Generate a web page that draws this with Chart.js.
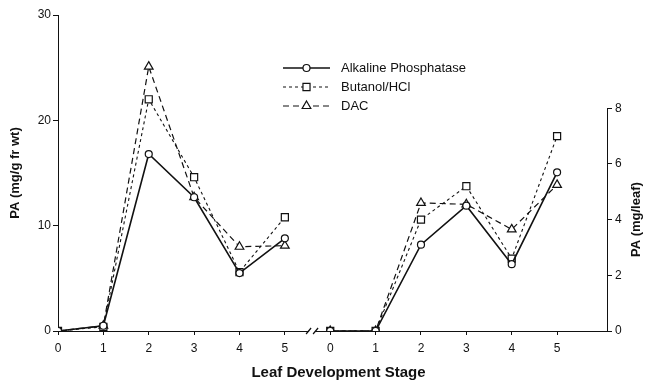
<!DOCTYPE html>
<html><head><meta charset="utf-8">
<script src="https://cdn.jsdelivr.net/npm/chart.js@4/dist/chart.umd.min.js"></script>
<style>html,body{margin:0;padding:0;background:#fff}#wrap{width:648px;height:382px}</style>
</head><body><div id="wrap"><canvas id="c" width="648" height="382"></canvas></div>
<script>
// ---- data ----
const stages = [0, 1, 2, 3, 4, 5];
const seriesNames = ['Alkaline Phosphatase', 'Butanol/HCl', 'DAC'];
// left panel: PA (mg/g fr wt)
const alkPerGram = [0, 0.5, 16.8, 12.7, 5.5, 8.8];
const butPerGram = [0, 0.4, 22.0, 14.6, 5.6, 10.8];
const dacPerGram = [0, 0.5, 25.1, 12.7, 8.0, 8.1];
// right panel: PA (mg/leaf)
const alkPerLeaf = [0, 0, 3.1, 4.5, 2.4, 5.7];
const butPerLeaf = [0, 0, 4.0, 5.2, 2.6, 7.0];
const dacPerLeaf = [0, 0, 4.6, 4.55, 3.65, 5.25];
const leftTicks = [0, 10, 20, 30];
const rightTicks = [0, 2, 4, 6, 8];
const xTickLabels = ['0', '1', '2', '3', '4', '5', '0', '1', '2', '3', '4', '5'];

// ---- layout / style ----
const PANEL_OFFSET = 6;
const INK = '#111';
const FONT = "'Liberation Sans', Arial, Helvetica, sans-serif";
const styles = [
  { dash: [], width: 1.6, point: 'circle', r: 3.5 },
  { dash: [3, 3], width: 1.1, point: 'rect', r: 5 },
  { dash: [6, 4], width: 1.2, point: 'triangle', r: 5 }
];

function mk(vals, i, off, axis) {
  const s = styles[i];
  return {
    label: seriesNames[i],
    data: stages.map((st, k) => ({ x: st + off, y: vals[k] })),
    yAxisID: axis,
    borderColor: INK, backgroundColor: '#fff',
    borderWidth: s.width, borderDash: s.dash,
    pointStyle: s.point, pointRadius: s.r, pointBorderWidth: 1.2,
    pointBackgroundColor: '#fff', pointBorderColor: INK,
    tension: 0
  };
}

const datasets = [
  mk(alkPerGram, 0, 0, 'y'), mk(butPerGram, 1, 0, 'y'), mk(dacPerGram, 2, 0, 'y'),
  mk(alkPerLeaf, 0, PANEL_OFFSET, 'y2'), mk(butPerLeaf, 1, PANEL_OFFSET, 'y2'), mk(dacPerLeaf, 2, PANEL_OFFSET, 'y2')
];

const decor = {
  id: 'decor',
  afterDraw(chart) {
    const ctx = chart.ctx, xs = chart.scales.x, y2 = chart.scales.y2;
    ctx.save();
    // right axis line only over its value range
    ctx.strokeStyle = INK; ctx.lineWidth = 1;
    ctx.beginPath();
    ctx.moveTo(y2.left + 0.5, y2.getPixelForValue(0));
    ctx.lineTo(y2.left + 0.5, y2.getPixelForValue(rightTicks[rightTicks.length - 1]));
    ctx.stroke();
    // axis break
    const bx = xs.getPixelForValue(5.6), by = xs.top;
    ctx.fillStyle = '#fff';
    ctx.fillRect(bx - 3, by - 2, 6, 4);
    ctx.lineWidth = 1.2;
    ctx.beginPath();
    ctx.moveTo(bx - 6, by + 3); ctx.lineTo(bx - 1, by - 3);
    ctx.moveTo(bx + 1, by + 3); ctx.lineTo(bx + 6, by - 3);
    ctx.stroke();
    // right axis title
    ctx.fillStyle = INK;
    ctx.font = "bold 13px " + FONT;
    ctx.textAlign = 'center'; ctx.textBaseline = 'middle';
    const ty = (y2.getPixelForValue(0) + y2.getPixelForValue(8)) / 2;
    ctx.save();
    ctx.translate(chart.chartArea.right + 29, ty);
    ctx.rotate(-Math.PI / 2);
    ctx.fillText('PA (mg/leaf)', 0, 0);
    ctx.restore();
    // x axis title
    ctx.font = "bold 15px " + FONT;
    ctx.fillText('Leaf Development Stage', (chart.chartArea.left + chart.chartArea.right) / 2 + 6, 373);
    ctx.restore();
    // legend
    ctx.save();
    const lx0 = 283, lx1 = 330, tx = 341, rows = [68, 87, 106];
    for (let i = 0; i < 3; i++) {
      const d = chart.data.datasets[i], y = rows[i];
      ctx.strokeStyle = INK; ctx.lineWidth = d.borderWidth; ctx.setLineDash(d.borderDash);
      ctx.beginPath(); ctx.moveTo(lx0, y); ctx.lineTo(lx1, y); ctx.stroke();
      ctx.setLineDash([]);
      ctx.fillStyle = '#fff'; ctx.lineWidth = 1.2;
      Chart.helpers.drawPoint(ctx, { pointStyle: d.pointStyle, radius: d.pointRadius, borderWidth: 1.2 }, (lx0 + lx1) / 2, y);
      ctx.fillStyle = INK; ctx.font = "13px " + FONT;
      ctx.textAlign = 'left'; ctx.textBaseline = 'middle';
      ctx.fillText(d.label, tx, y);
    }
    ctx.restore();
  }
};

new Chart(document.getElementById('c'), {
  type: 'line',
  data: { datasets },
  plugins: [decor],
  options: {
    responsive: false, animation: false,
    layout: { padding: { top: 15, left: 0, right: 0, bottom: 0 } },
    plugins: { legend: { display: false }, tooltip: { enabled: false } },
    scales: {
      x: {
        type: 'linear', min: 0, max: 12.1,
        afterBuildTicks: s => { s.ticks = xTickLabels.map((_, i) => ({ value: i })); },
        afterFit: s => { s.height = 51; },
        grid: { drawOnChartArea: false, drawTicks: true, tickLength: 4, color: INK, lineWidth: 1 },
        border: { display: true, color: INK, width: 1 },
        ticks: { color: INK, font: { family: FONT, size: 12 }, padding: 6, maxRotation: 0, autoSkip: false,
                 callback: (v) => xTickLabels[v] },
        title: { display: false }
      },
      y: {
        type: 'linear', position: 'left', min: 0, max: 30,
        afterBuildTicks: s => { s.ticks = leftTicks.map(v => ({ value: v })); },
        afterFit: s => { s.width = 58; },
        grid: { drawOnChartArea: false, drawTicks: true, tickLength: 5, color: INK, lineWidth: 1 },
        border: { display: true, color: INK, width: 1 },
        ticks: { color: INK, font: { family: FONT, size: 12 }, padding: 2 },
        title: { display: true, text: 'PA (mg/g fr wt)', color: INK,
                 font: { family: FONT, size: 13, weight: 'bold' }, padding: { top: 8, bottom: 0 } }
      },
      y2: {
        type: 'linear', position: 'right', min: 0, max: 11.35,
        afterBuildTicks: s => { s.ticks = rightTicks.map(v => ({ value: v })); },
        afterFit: s => { s.width = 41; },
        grid: { drawOnChartArea: false, drawTicks: true, tickLength: 5, color: INK, lineWidth: 1 },
        border: { display: false },
        ticks: { color: INK, font: { family: FONT, size: 12 }, padding: 3 }
      }
    }
  }
});
</script>
</body></html>
